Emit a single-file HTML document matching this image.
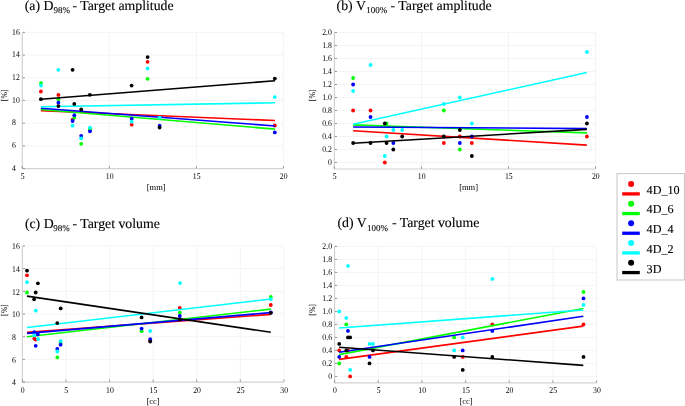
<!DOCTYPE html>
<html><head><meta charset="utf-8"><style>
html,body{margin:0;padding:0;background:#fff;}
body{width:685px;height:406px;overflow:hidden;}
svg{display:block;font-family:"Liberation Serif", serif;will-change:transform;text-rendering:geometricPrecision;}
</style></head><body>
<svg width="685" height="406" viewBox="0 0 685 406">
<rect width="685" height="406" fill="#fff"/>
<line x1="109.33" y1="32.40" x2="109.33" y2="168.60" stroke="#f4f4f4" stroke-width="1" />
<line x1="196.37" y1="32.40" x2="196.37" y2="168.60" stroke="#f4f4f4" stroke-width="1" />
<line x1="22.30" y1="145.90" x2="283.40" y2="145.90" stroke="#f4f4f4" stroke-width="1" />
<line x1="22.30" y1="123.20" x2="283.40" y2="123.20" stroke="#f4f4f4" stroke-width="1" />
<line x1="22.30" y1="100.50" x2="283.40" y2="100.50" stroke="#f4f4f4" stroke-width="1" />
<line x1="22.30" y1="77.80" x2="283.40" y2="77.80" stroke="#f4f4f4" stroke-width="1" />
<line x1="22.30" y1="55.10" x2="283.40" y2="55.10" stroke="#f4f4f4" stroke-width="1" />
<line x1="22.30" y1="32.40" x2="283.40" y2="32.40" stroke="#f4f4f4" stroke-width="1" />
<line x1="283.40" y1="32.40" x2="283.40" y2="168.60" stroke="#f4f4f4" stroke-width="1" />
<line x1="22.30" y1="32.40" x2="22.30" y2="169.10" stroke="#d2d2d2" stroke-width="1.2" />
<line x1="21.80" y1="168.60" x2="283.40" y2="168.60" stroke="#d2d2d2" stroke-width="1.2" />
<line x1="22.60" y1="168.60" x2="24.90" y2="168.60" stroke="#808080" stroke-width="0.8" />
<line x1="22.60" y1="145.90" x2="24.90" y2="145.90" stroke="#808080" stroke-width="0.8" />
<line x1="22.60" y1="123.20" x2="24.90" y2="123.20" stroke="#808080" stroke-width="0.8" />
<line x1="22.60" y1="100.50" x2="24.90" y2="100.50" stroke="#808080" stroke-width="0.8" />
<line x1="22.60" y1="77.80" x2="24.90" y2="77.80" stroke="#808080" stroke-width="0.8" />
<line x1="22.60" y1="55.10" x2="24.90" y2="55.10" stroke="#808080" stroke-width="0.8" />
<line x1="22.60" y1="32.40" x2="24.90" y2="32.40" stroke="#808080" stroke-width="0.8" />
<line x1="22.30" y1="168.30" x2="22.30" y2="166.00" stroke="#808080" stroke-width="0.8" />
<line x1="109.33" y1="168.30" x2="109.33" y2="166.00" stroke="#808080" stroke-width="0.8" />
<line x1="196.37" y1="168.30" x2="196.37" y2="166.00" stroke="#808080" stroke-width="0.8" />
<line x1="283.40" y1="168.30" x2="283.40" y2="166.00" stroke="#808080" stroke-width="0.8" />
<text transform="translate(12.10,170.80) scale(0.88,1)" font-size="8.8" text-anchor="start" fill="#000" >4</text>
<text transform="translate(12.10,148.10) scale(0.88,1)" font-size="8.8" text-anchor="start" fill="#000" >6</text>
<text transform="translate(12.10,125.40) scale(0.88,1)" font-size="8.8" text-anchor="start" fill="#000" >8</text>
<text transform="translate(12.10,102.70) scale(0.88,1)" font-size="8.8" text-anchor="start" fill="#000" >10</text>
<text transform="translate(12.10,80.00) scale(0.88,1)" font-size="8.8" text-anchor="start" fill="#000" >12</text>
<text transform="translate(12.10,57.30) scale(0.88,1)" font-size="8.8" text-anchor="start" fill="#000" >14</text>
<text transform="translate(12.10,34.60) scale(0.88,1)" font-size="8.8" text-anchor="start" fill="#000" >16</text>
<text transform="translate(22.60,178.80) scale(0.88,1)" font-size="8.8" text-anchor="middle" fill="#000" >5</text>
<text transform="translate(109.63,178.80) scale(0.88,1)" font-size="8.8" text-anchor="middle" fill="#000" >10</text>
<text transform="translate(196.67,178.80) scale(0.88,1)" font-size="8.8" text-anchor="middle" fill="#000" >15</text>
<text transform="translate(283.70,178.80) scale(0.88,1)" font-size="8.8" text-anchor="middle" fill="#000" >20</text>
<line x1="421.43" y1="32.50" x2="421.43" y2="169.00" stroke="#f4f4f4" stroke-width="1" />
<line x1="508.47" y1="32.50" x2="508.47" y2="169.00" stroke="#f4f4f4" stroke-width="1" />
<line x1="334.40" y1="162.50" x2="595.50" y2="162.50" stroke="#f4f4f4" stroke-width="1" />
<line x1="334.40" y1="149.50" x2="595.50" y2="149.50" stroke="#f4f4f4" stroke-width="1" />
<line x1="334.40" y1="136.50" x2="595.50" y2="136.50" stroke="#f4f4f4" stroke-width="1" />
<line x1="334.40" y1="123.50" x2="595.50" y2="123.50" stroke="#f4f4f4" stroke-width="1" />
<line x1="334.40" y1="110.50" x2="595.50" y2="110.50" stroke="#f4f4f4" stroke-width="1" />
<line x1="334.40" y1="97.50" x2="595.50" y2="97.50" stroke="#f4f4f4" stroke-width="1" />
<line x1="334.40" y1="84.50" x2="595.50" y2="84.50" stroke="#f4f4f4" stroke-width="1" />
<line x1="334.40" y1="71.50" x2="595.50" y2="71.50" stroke="#f4f4f4" stroke-width="1" />
<line x1="334.40" y1="58.50" x2="595.50" y2="58.50" stroke="#f4f4f4" stroke-width="1" />
<line x1="334.40" y1="45.50" x2="595.50" y2="45.50" stroke="#f4f4f4" stroke-width="1" />
<line x1="334.40" y1="32.50" x2="595.50" y2="32.50" stroke="#f4f4f4" stroke-width="1" />
<line x1="595.50" y1="32.50" x2="595.50" y2="169.00" stroke="#f4f4f4" stroke-width="1" />
<line x1="334.40" y1="32.50" x2="334.40" y2="169.50" stroke="#d2d2d2" stroke-width="1.2" />
<line x1="333.90" y1="169.00" x2="595.50" y2="169.00" stroke="#d2d2d2" stroke-width="1.2" />
<line x1="334.70" y1="162.50" x2="337.00" y2="162.50" stroke="#808080" stroke-width="0.8" />
<line x1="334.70" y1="149.50" x2="337.00" y2="149.50" stroke="#808080" stroke-width="0.8" />
<line x1="334.70" y1="136.50" x2="337.00" y2="136.50" stroke="#808080" stroke-width="0.8" />
<line x1="334.70" y1="123.50" x2="337.00" y2="123.50" stroke="#808080" stroke-width="0.8" />
<line x1="334.70" y1="110.50" x2="337.00" y2="110.50" stroke="#808080" stroke-width="0.8" />
<line x1="334.70" y1="97.50" x2="337.00" y2="97.50" stroke="#808080" stroke-width="0.8" />
<line x1="334.70" y1="84.50" x2="337.00" y2="84.50" stroke="#808080" stroke-width="0.8" />
<line x1="334.70" y1="71.50" x2="337.00" y2="71.50" stroke="#808080" stroke-width="0.8" />
<line x1="334.70" y1="58.50" x2="337.00" y2="58.50" stroke="#808080" stroke-width="0.8" />
<line x1="334.70" y1="45.50" x2="337.00" y2="45.50" stroke="#808080" stroke-width="0.8" />
<line x1="334.70" y1="32.50" x2="337.00" y2="32.50" stroke="#808080" stroke-width="0.8" />
<line x1="334.40" y1="168.70" x2="334.40" y2="166.40" stroke="#808080" stroke-width="0.8" />
<line x1="421.43" y1="168.70" x2="421.43" y2="166.40" stroke="#808080" stroke-width="0.8" />
<line x1="508.47" y1="168.70" x2="508.47" y2="166.40" stroke="#808080" stroke-width="0.8" />
<line x1="595.50" y1="168.70" x2="595.50" y2="166.40" stroke="#808080" stroke-width="0.8" />
<text transform="translate(331.85,165.00) scale(0.88,1)" font-size="8.8" text-anchor="end" fill="#000" >0</text>
<text transform="translate(331.85,152.00) scale(0.88,1)" font-size="8.8" text-anchor="end" fill="#000" >0.2</text>
<text transform="translate(331.85,139.00) scale(0.88,1)" font-size="8.8" text-anchor="end" fill="#000" >0.4</text>
<text transform="translate(331.85,126.00) scale(0.88,1)" font-size="8.8" text-anchor="end" fill="#000" >0.6</text>
<text transform="translate(331.85,113.00) scale(0.88,1)" font-size="8.8" text-anchor="end" fill="#000" >0.8</text>
<text transform="translate(331.85,100.00) scale(0.88,1)" font-size="8.8" text-anchor="end" fill="#000" >1.0</text>
<text transform="translate(331.85,87.00) scale(0.88,1)" font-size="8.8" text-anchor="end" fill="#000" >1.2</text>
<text transform="translate(331.85,74.00) scale(0.88,1)" font-size="8.8" text-anchor="end" fill="#000" >1.4</text>
<text transform="translate(331.85,61.00) scale(0.88,1)" font-size="8.8" text-anchor="end" fill="#000" >1.6</text>
<text transform="translate(331.85,48.00) scale(0.88,1)" font-size="8.8" text-anchor="end" fill="#000" >1.8</text>
<text transform="translate(331.85,35.00) scale(0.88,1)" font-size="8.8" text-anchor="end" fill="#000" >2.0</text>
<text transform="translate(334.70,178.80) scale(0.88,1)" font-size="8.8" text-anchor="middle" fill="#000" >5</text>
<text transform="translate(421.73,178.80) scale(0.88,1)" font-size="8.8" text-anchor="middle" fill="#000" >10</text>
<text transform="translate(508.77,178.80) scale(0.88,1)" font-size="8.8" text-anchor="middle" fill="#000" >15</text>
<text transform="translate(595.80,178.80) scale(0.88,1)" font-size="8.8" text-anchor="middle" fill="#000" >20</text>
<line x1="65.98" y1="245.90" x2="65.98" y2="382.10" stroke="#f4f4f4" stroke-width="1" />
<line x1="109.57" y1="245.90" x2="109.57" y2="382.10" stroke="#f4f4f4" stroke-width="1" />
<line x1="153.15" y1="245.90" x2="153.15" y2="382.10" stroke="#f4f4f4" stroke-width="1" />
<line x1="196.73" y1="245.90" x2="196.73" y2="382.10" stroke="#f4f4f4" stroke-width="1" />
<line x1="240.32" y1="245.90" x2="240.32" y2="382.10" stroke="#f4f4f4" stroke-width="1" />
<line x1="22.40" y1="359.40" x2="283.90" y2="359.40" stroke="#f4f4f4" stroke-width="1" />
<line x1="22.40" y1="336.70" x2="283.90" y2="336.70" stroke="#f4f4f4" stroke-width="1" />
<line x1="22.40" y1="314.00" x2="283.90" y2="314.00" stroke="#f4f4f4" stroke-width="1" />
<line x1="22.40" y1="291.30" x2="283.90" y2="291.30" stroke="#f4f4f4" stroke-width="1" />
<line x1="22.40" y1="268.60" x2="283.90" y2="268.60" stroke="#f4f4f4" stroke-width="1" />
<line x1="22.40" y1="245.90" x2="283.90" y2="245.90" stroke="#f4f4f4" stroke-width="1" />
<line x1="283.90" y1="245.90" x2="283.90" y2="382.10" stroke="#f4f4f4" stroke-width="1" />
<line x1="22.40" y1="245.90" x2="22.40" y2="382.60" stroke="#d2d2d2" stroke-width="1.2" />
<line x1="21.90" y1="382.10" x2="283.90" y2="382.10" stroke="#d2d2d2" stroke-width="1.2" />
<line x1="22.70" y1="382.10" x2="25.00" y2="382.10" stroke="#808080" stroke-width="0.8" />
<line x1="22.70" y1="359.40" x2="25.00" y2="359.40" stroke="#808080" stroke-width="0.8" />
<line x1="22.70" y1="336.70" x2="25.00" y2="336.70" stroke="#808080" stroke-width="0.8" />
<line x1="22.70" y1="314.00" x2="25.00" y2="314.00" stroke="#808080" stroke-width="0.8" />
<line x1="22.70" y1="291.30" x2="25.00" y2="291.30" stroke="#808080" stroke-width="0.8" />
<line x1="22.70" y1="268.60" x2="25.00" y2="268.60" stroke="#808080" stroke-width="0.8" />
<line x1="22.70" y1="245.90" x2="25.00" y2="245.90" stroke="#808080" stroke-width="0.8" />
<line x1="22.40" y1="381.80" x2="22.40" y2="379.50" stroke="#808080" stroke-width="0.8" />
<line x1="65.98" y1="381.80" x2="65.98" y2="379.50" stroke="#808080" stroke-width="0.8" />
<line x1="109.57" y1="381.80" x2="109.57" y2="379.50" stroke="#808080" stroke-width="0.8" />
<line x1="153.15" y1="381.80" x2="153.15" y2="379.50" stroke="#808080" stroke-width="0.8" />
<line x1="196.73" y1="381.80" x2="196.73" y2="379.50" stroke="#808080" stroke-width="0.8" />
<line x1="240.32" y1="381.80" x2="240.32" y2="379.50" stroke="#808080" stroke-width="0.8" />
<line x1="283.90" y1="381.80" x2="283.90" y2="379.50" stroke="#808080" stroke-width="0.8" />
<text transform="translate(12.10,385.30) scale(0.88,1)" font-size="8.8" text-anchor="start" fill="#000" >4</text>
<text transform="translate(12.10,362.60) scale(0.88,1)" font-size="8.8" text-anchor="start" fill="#000" >6</text>
<text transform="translate(12.10,339.90) scale(0.88,1)" font-size="8.8" text-anchor="start" fill="#000" >8</text>
<text transform="translate(12.10,317.20) scale(0.88,1)" font-size="8.8" text-anchor="start" fill="#000" >10</text>
<text transform="translate(12.10,294.50) scale(0.88,1)" font-size="8.8" text-anchor="start" fill="#000" >12</text>
<text transform="translate(12.10,271.80) scale(0.88,1)" font-size="8.8" text-anchor="start" fill="#000" >14</text>
<text transform="translate(12.10,249.10) scale(0.88,1)" font-size="8.8" text-anchor="start" fill="#000" >16</text>
<text transform="translate(22.70,393.10) scale(0.88,1)" font-size="8.8" text-anchor="middle" fill="#000" >0</text>
<text transform="translate(66.28,393.10) scale(0.88,1)" font-size="8.8" text-anchor="middle" fill="#000" >5</text>
<text transform="translate(109.87,393.10) scale(0.88,1)" font-size="8.8" text-anchor="middle" fill="#000" >10</text>
<text transform="translate(153.45,393.10) scale(0.88,1)" font-size="8.8" text-anchor="middle" fill="#000" >15</text>
<text transform="translate(197.03,393.10) scale(0.88,1)" font-size="8.8" text-anchor="middle" fill="#000" >20</text>
<text transform="translate(240.62,393.10) scale(0.88,1)" font-size="8.8" text-anchor="middle" fill="#000" >25</text>
<text transform="translate(284.20,393.10) scale(0.88,1)" font-size="8.8" text-anchor="middle" fill="#000" >30</text>
<line x1="378.27" y1="246.40" x2="378.27" y2="382.90" stroke="#f4f4f4" stroke-width="1" />
<line x1="421.93" y1="246.40" x2="421.93" y2="382.90" stroke="#f4f4f4" stroke-width="1" />
<line x1="465.60" y1="246.40" x2="465.60" y2="382.90" stroke="#f4f4f4" stroke-width="1" />
<line x1="509.27" y1="246.40" x2="509.27" y2="382.90" stroke="#f4f4f4" stroke-width="1" />
<line x1="552.93" y1="246.40" x2="552.93" y2="382.90" stroke="#f4f4f4" stroke-width="1" />
<line x1="334.60" y1="376.40" x2="596.60" y2="376.40" stroke="#f4f4f4" stroke-width="1" />
<line x1="334.60" y1="363.40" x2="596.60" y2="363.40" stroke="#f4f4f4" stroke-width="1" />
<line x1="334.60" y1="350.40" x2="596.60" y2="350.40" stroke="#f4f4f4" stroke-width="1" />
<line x1="334.60" y1="337.40" x2="596.60" y2="337.40" stroke="#f4f4f4" stroke-width="1" />
<line x1="334.60" y1="324.40" x2="596.60" y2="324.40" stroke="#f4f4f4" stroke-width="1" />
<line x1="334.60" y1="311.40" x2="596.60" y2="311.40" stroke="#f4f4f4" stroke-width="1" />
<line x1="334.60" y1="298.40" x2="596.60" y2="298.40" stroke="#f4f4f4" stroke-width="1" />
<line x1="334.60" y1="285.40" x2="596.60" y2="285.40" stroke="#f4f4f4" stroke-width="1" />
<line x1="334.60" y1="272.40" x2="596.60" y2="272.40" stroke="#f4f4f4" stroke-width="1" />
<line x1="334.60" y1="259.40" x2="596.60" y2="259.40" stroke="#f4f4f4" stroke-width="1" />
<line x1="334.60" y1="246.40" x2="596.60" y2="246.40" stroke="#f4f4f4" stroke-width="1" />
<line x1="596.60" y1="246.40" x2="596.60" y2="382.90" stroke="#f4f4f4" stroke-width="1" />
<line x1="334.60" y1="246.40" x2="334.60" y2="383.40" stroke="#d2d2d2" stroke-width="1.2" />
<line x1="334.10" y1="382.90" x2="596.60" y2="382.90" stroke="#d2d2d2" stroke-width="1.2" />
<line x1="334.90" y1="376.40" x2="337.20" y2="376.40" stroke="#808080" stroke-width="0.8" />
<line x1="334.90" y1="363.40" x2="337.20" y2="363.40" stroke="#808080" stroke-width="0.8" />
<line x1="334.90" y1="350.40" x2="337.20" y2="350.40" stroke="#808080" stroke-width="0.8" />
<line x1="334.90" y1="337.40" x2="337.20" y2="337.40" stroke="#808080" stroke-width="0.8" />
<line x1="334.90" y1="324.40" x2="337.20" y2="324.40" stroke="#808080" stroke-width="0.8" />
<line x1="334.90" y1="311.40" x2="337.20" y2="311.40" stroke="#808080" stroke-width="0.8" />
<line x1="334.90" y1="298.40" x2="337.20" y2="298.40" stroke="#808080" stroke-width="0.8" />
<line x1="334.90" y1="285.40" x2="337.20" y2="285.40" stroke="#808080" stroke-width="0.8" />
<line x1="334.90" y1="272.40" x2="337.20" y2="272.40" stroke="#808080" stroke-width="0.8" />
<line x1="334.90" y1="259.40" x2="337.20" y2="259.40" stroke="#808080" stroke-width="0.8" />
<line x1="334.90" y1="246.40" x2="337.20" y2="246.40" stroke="#808080" stroke-width="0.8" />
<line x1="334.60" y1="382.60" x2="334.60" y2="380.30" stroke="#808080" stroke-width="0.8" />
<line x1="378.27" y1="382.60" x2="378.27" y2="380.30" stroke="#808080" stroke-width="0.8" />
<line x1="421.93" y1="382.60" x2="421.93" y2="380.30" stroke="#808080" stroke-width="0.8" />
<line x1="465.60" y1="382.60" x2="465.60" y2="380.30" stroke="#808080" stroke-width="0.8" />
<line x1="509.27" y1="382.60" x2="509.27" y2="380.30" stroke="#808080" stroke-width="0.8" />
<line x1="552.93" y1="382.60" x2="552.93" y2="380.30" stroke="#808080" stroke-width="0.8" />
<line x1="596.60" y1="382.60" x2="596.60" y2="380.30" stroke="#808080" stroke-width="0.8" />
<text transform="translate(332.05,379.10) scale(0.88,1)" font-size="8.8" text-anchor="end" fill="#000" >0</text>
<text transform="translate(332.05,366.10) scale(0.88,1)" font-size="8.8" text-anchor="end" fill="#000" >0.2</text>
<text transform="translate(332.05,353.10) scale(0.88,1)" font-size="8.8" text-anchor="end" fill="#000" >0.4</text>
<text transform="translate(332.05,340.10) scale(0.88,1)" font-size="8.8" text-anchor="end" fill="#000" >0.6</text>
<text transform="translate(332.05,327.10) scale(0.88,1)" font-size="8.8" text-anchor="end" fill="#000" >0.8</text>
<text transform="translate(332.05,314.10) scale(0.88,1)" font-size="8.8" text-anchor="end" fill="#000" >1.0</text>
<text transform="translate(332.05,301.10) scale(0.88,1)" font-size="8.8" text-anchor="end" fill="#000" >1.2</text>
<text transform="translate(332.05,288.10) scale(0.88,1)" font-size="8.8" text-anchor="end" fill="#000" >1.4</text>
<text transform="translate(332.05,275.10) scale(0.88,1)" font-size="8.8" text-anchor="end" fill="#000" >1.6</text>
<text transform="translate(332.05,262.10) scale(0.88,1)" font-size="8.8" text-anchor="end" fill="#000" >1.8</text>
<text transform="translate(332.05,249.10) scale(0.88,1)" font-size="8.8" text-anchor="end" fill="#000" >2.0</text>
<text transform="translate(334.90,393.10) scale(0.88,1)" font-size="8.8" text-anchor="middle" fill="#000" >0</text>
<text transform="translate(378.57,393.10) scale(0.88,1)" font-size="8.8" text-anchor="middle" fill="#000" >5</text>
<text transform="translate(422.23,393.10) scale(0.88,1)" font-size="8.8" text-anchor="middle" fill="#000" >10</text>
<text transform="translate(465.90,393.10) scale(0.88,1)" font-size="8.8" text-anchor="middle" fill="#000" >15</text>
<text transform="translate(509.57,393.10) scale(0.88,1)" font-size="8.8" text-anchor="middle" fill="#000" >20</text>
<text transform="translate(553.23,393.10) scale(0.88,1)" font-size="8.8" text-anchor="middle" fill="#000" >25</text>
<text transform="translate(596.90,393.10) scale(0.88,1)" font-size="8.8" text-anchor="middle" fill="#000" >30</text>
<circle cx="40.90" cy="91.50" r="1.9" fill="#ff0000"/>
<circle cx="58.40" cy="94.90" r="1.9" fill="#ff0000"/>
<circle cx="72.60" cy="119.60" r="1.9" fill="#ff0000"/>
<circle cx="89.90" cy="129.80" r="1.9" fill="#ff0000"/>
<circle cx="131.70" cy="124.70" r="1.9" fill="#ff0000"/>
<circle cx="147.60" cy="61.80" r="1.9" fill="#ff0000"/>
<circle cx="274.80" cy="125.50" r="1.9" fill="#ff0000"/>
<line x1="40.90" y1="110.80" x2="275.00" y2="120.50" stroke="#ff0000" stroke-width="1.6" stroke-linecap="butt"/>
<circle cx="41.00" cy="83.10" r="1.9" fill="#00ff00"/>
<circle cx="58.40" cy="99.20" r="1.9" fill="#00ff00"/>
<circle cx="74.30" cy="117.70" r="1.9" fill="#00ff00"/>
<circle cx="81.20" cy="143.80" r="1.9" fill="#00ff00"/>
<circle cx="90.00" cy="129.20" r="1.9" fill="#00ff00"/>
<circle cx="147.60" cy="78.80" r="1.9" fill="#00ff00"/>
<line x1="40.90" y1="109.50" x2="275.00" y2="129.10" stroke="#00ff00" stroke-width="1.6" stroke-linecap="butt"/>
<circle cx="58.40" cy="102.70" r="1.9" fill="#0000ff"/>
<circle cx="74.30" cy="115.20" r="1.9" fill="#0000ff"/>
<circle cx="72.60" cy="121.00" r="1.9" fill="#0000ff"/>
<circle cx="81.20" cy="135.80" r="1.9" fill="#0000ff"/>
<circle cx="90.00" cy="131.30" r="1.9" fill="#0000ff"/>
<circle cx="131.70" cy="118.70" r="1.9" fill="#0000ff"/>
<circle cx="159.60" cy="125.70" r="1.9" fill="#0000ff"/>
<circle cx="274.80" cy="132.40" r="1.9" fill="#0000ff"/>
<line x1="40.90" y1="108.20" x2="275.00" y2="126.00" stroke="#0000ff" stroke-width="1.6" stroke-linecap="butt"/>
<circle cx="41.00" cy="85.50" r="1.9" fill="#00ffff"/>
<circle cx="58.40" cy="69.80" r="1.9" fill="#00ffff"/>
<circle cx="72.60" cy="125.70" r="1.9" fill="#00ffff"/>
<circle cx="81.20" cy="138.30" r="1.9" fill="#00ffff"/>
<circle cx="90.00" cy="127.60" r="1.9" fill="#00ffff"/>
<circle cx="131.70" cy="121.70" r="1.9" fill="#00ffff"/>
<circle cx="147.60" cy="68.50" r="1.9" fill="#00ffff"/>
<circle cx="159.60" cy="117.70" r="1.9" fill="#00ffff"/>
<circle cx="274.80" cy="97.10" r="1.9" fill="#00ffff"/>
<line x1="40.90" y1="106.70" x2="275.00" y2="102.80" stroke="#00ffff" stroke-width="1.6" stroke-linecap="butt"/>
<circle cx="40.90" cy="99.20" r="1.9" fill="#000000"/>
<circle cx="58.40" cy="106.10" r="1.9" fill="#000000"/>
<circle cx="72.60" cy="69.80" r="1.9" fill="#000000"/>
<circle cx="74.30" cy="103.90" r="1.9" fill="#000000"/>
<circle cx="81.20" cy="109.50" r="1.9" fill="#000000"/>
<circle cx="89.90" cy="94.80" r="1.9" fill="#000000"/>
<circle cx="131.60" cy="85.60" r="1.9" fill="#000000"/>
<circle cx="147.60" cy="57.10" r="1.9" fill="#000000"/>
<circle cx="159.60" cy="127.50" r="1.9" fill="#000000"/>
<circle cx="274.80" cy="78.60" r="1.9" fill="#000000"/>
<line x1="40.90" y1="99.30" x2="275.00" y2="80.70" stroke="#000000" stroke-width="1.6" stroke-linecap="butt"/>
<circle cx="353.13" cy="110.50" r="1.9" fill="#ff0000"/>
<circle cx="370.53" cy="110.50" r="1.9" fill="#ff0000"/>
<circle cx="384.81" cy="162.50" r="1.9" fill="#ff0000"/>
<circle cx="443.82" cy="143.00" r="1.9" fill="#ff0000"/>
<circle cx="459.83" cy="136.50" r="1.9" fill="#ff0000"/>
<circle cx="471.84" cy="143.00" r="1.9" fill="#ff0000"/>
<circle cx="586.90" cy="136.50" r="1.9" fill="#ff0000"/>
<line x1="353.10" y1="130.80" x2="586.90" y2="145.10" stroke="#ff0000" stroke-width="1.6" stroke-linecap="butt"/>
<circle cx="353.13" cy="78.00" r="1.9" fill="#00ff00"/>
<circle cx="386.55" cy="123.50" r="1.9" fill="#00ff00"/>
<circle cx="443.82" cy="110.50" r="1.9" fill="#00ff00"/>
<circle cx="459.83" cy="149.50" r="1.9" fill="#00ff00"/>
<line x1="353.10" y1="124.90" x2="586.90" y2="132.90" stroke="#00ff00" stroke-width="1.6" stroke-linecap="butt"/>
<circle cx="353.13" cy="84.50" r="1.9" fill="#0000ff"/>
<circle cx="370.53" cy="117.00" r="1.9" fill="#0000ff"/>
<circle cx="393.34" cy="143.00" r="1.9" fill="#0000ff"/>
<circle cx="459.83" cy="143.00" r="1.9" fill="#0000ff"/>
<circle cx="471.84" cy="136.50" r="1.9" fill="#0000ff"/>
<circle cx="586.90" cy="117.00" r="1.9" fill="#0000ff"/>
<line x1="353.10" y1="127.00" x2="586.90" y2="128.60" stroke="#0000ff" stroke-width="1.6" stroke-linecap="butt"/>
<circle cx="353.13" cy="91.00" r="1.9" fill="#00ffff"/>
<circle cx="370.53" cy="65.00" r="1.9" fill="#00ffff"/>
<circle cx="384.81" cy="156.00" r="1.9" fill="#00ffff"/>
<circle cx="386.55" cy="136.50" r="1.9" fill="#00ffff"/>
<circle cx="393.34" cy="130.00" r="1.9" fill="#00ffff"/>
<circle cx="402.21" cy="130.00" r="1.9" fill="#00ffff"/>
<circle cx="443.82" cy="104.00" r="1.9" fill="#00ffff"/>
<circle cx="459.83" cy="97.50" r="1.9" fill="#00ffff"/>
<circle cx="471.84" cy="123.50" r="1.9" fill="#00ffff"/>
<circle cx="586.90" cy="52.00" r="1.9" fill="#00ffff"/>
<line x1="353.10" y1="124.20" x2="586.90" y2="72.50" stroke="#00ffff" stroke-width="1.6" stroke-linecap="butt"/>
<circle cx="353.13" cy="143.00" r="1.9" fill="#000000"/>
<circle cx="370.53" cy="143.00" r="1.9" fill="#000000"/>
<circle cx="384.81" cy="123.50" r="1.9" fill="#000000"/>
<circle cx="386.55" cy="143.00" r="1.9" fill="#000000"/>
<circle cx="393.34" cy="149.50" r="1.9" fill="#000000"/>
<circle cx="402.21" cy="136.50" r="1.9" fill="#000000"/>
<circle cx="443.82" cy="136.50" r="1.9" fill="#000000"/>
<circle cx="459.83" cy="130.00" r="1.9" fill="#000000"/>
<circle cx="471.84" cy="156.00" r="1.9" fill="#000000"/>
<circle cx="586.90" cy="123.50" r="1.9" fill="#000000"/>
<line x1="353.10" y1="143.20" x2="586.90" y2="129.40" stroke="#000000" stroke-width="1.6" stroke-linecap="butt"/>
<circle cx="27.00" cy="275.30" r="1.9" fill="#ff0000"/>
<circle cx="34.30" cy="338.60" r="1.9" fill="#ff0000"/>
<circle cx="35.50" cy="339.60" r="1.9" fill="#ff0000"/>
<circle cx="150.20" cy="340.50" r="1.9" fill="#ff0000"/>
<circle cx="179.80" cy="308.00" r="1.9" fill="#ff0000"/>
<circle cx="270.80" cy="305.00" r="1.9" fill="#ff0000"/>
<line x1="27.00" y1="332.40" x2="270.80" y2="314.40" stroke="#ff0000" stroke-width="1.6" stroke-linecap="butt"/>
<circle cx="27.00" cy="292.50" r="1.9" fill="#00ff00"/>
<circle cx="60.60" cy="342.80" r="1.9" fill="#00ff00"/>
<circle cx="57.30" cy="357.40" r="1.9" fill="#00ff00"/>
<circle cx="141.60" cy="331.20" r="1.9" fill="#00ff00"/>
<circle cx="179.80" cy="312.70" r="1.9" fill="#00ff00"/>
<circle cx="270.80" cy="296.80" r="1.9" fill="#00ff00"/>
<line x1="27.00" y1="336.80" x2="270.80" y2="309.10" stroke="#00ff00" stroke-width="1.6" stroke-linecap="butt"/>
<circle cx="34.20" cy="332.20" r="1.9" fill="#0000ff"/>
<circle cx="37.80" cy="334.40" r="1.9" fill="#0000ff"/>
<circle cx="35.70" cy="345.80" r="1.9" fill="#0000ff"/>
<circle cx="60.60" cy="344.70" r="1.9" fill="#0000ff"/>
<circle cx="57.30" cy="349.00" r="1.9" fill="#0000ff"/>
<circle cx="141.60" cy="328.60" r="1.9" fill="#0000ff"/>
<circle cx="150.20" cy="339.10" r="1.9" fill="#0000ff"/>
<circle cx="179.80" cy="316.00" r="1.9" fill="#0000ff"/>
<circle cx="270.80" cy="312.50" r="1.9" fill="#0000ff"/>
<line x1="27.00" y1="333.40" x2="270.80" y2="312.60" stroke="#0000ff" stroke-width="1.6" stroke-linecap="butt"/>
<circle cx="27.00" cy="282.20" r="1.9" fill="#00ffff"/>
<circle cx="35.80" cy="310.70" r="1.9" fill="#00ffff"/>
<circle cx="34.20" cy="335.40" r="1.9" fill="#00ffff"/>
<circle cx="38.10" cy="339.20" r="1.9" fill="#00ffff"/>
<circle cx="60.60" cy="341.10" r="1.9" fill="#00ffff"/>
<circle cx="57.30" cy="351.50" r="1.9" fill="#00ffff"/>
<circle cx="150.20" cy="331.00" r="1.9" fill="#00ffff"/>
<circle cx="180.10" cy="283.10" r="1.9" fill="#00ffff"/>
<circle cx="270.80" cy="299.20" r="1.9" fill="#00ffff"/>
<line x1="27.00" y1="327.50" x2="270.80" y2="299.00" stroke="#00ffff" stroke-width="1.6" stroke-linecap="butt"/>
<circle cx="27.00" cy="270.70" r="1.9" fill="#000000"/>
<circle cx="37.90" cy="283.30" r="1.9" fill="#000000"/>
<circle cx="35.70" cy="292.50" r="1.9" fill="#000000"/>
<circle cx="34.10" cy="299.30" r="1.9" fill="#000000"/>
<circle cx="60.70" cy="308.40" r="1.9" fill="#000000"/>
<circle cx="57.30" cy="323.10" r="1.9" fill="#000000"/>
<circle cx="141.60" cy="317.40" r="1.9" fill="#000000"/>
<circle cx="150.20" cy="341.60" r="1.9" fill="#000000"/>
<circle cx="179.80" cy="319.40" r="1.9" fill="#000000"/>
<circle cx="270.80" cy="312.80" r="1.9" fill="#000000"/>
<line x1="27.00" y1="296.10" x2="270.80" y2="332.30" stroke="#000000" stroke-width="1.6" stroke-linecap="butt"/>
<circle cx="339.23" cy="350.40" r="1.9" fill="#ff0000"/>
<circle cx="346.30" cy="356.90" r="1.9" fill="#ff0000"/>
<circle cx="347.96" cy="350.40" r="1.9" fill="#ff0000"/>
<circle cx="350.14" cy="376.40" r="1.9" fill="#ff0000"/>
<circle cx="462.71" cy="356.90" r="1.9" fill="#ff0000"/>
<circle cx="492.32" cy="324.40" r="1.9" fill="#ff0000"/>
<circle cx="583.49" cy="324.40" r="1.9" fill="#ff0000"/>
<line x1="339.10" y1="359.40" x2="583.30" y2="326.10" stroke="#ff0000" stroke-width="1.6" stroke-linecap="butt"/>
<circle cx="339.23" cy="363.40" r="1.9" fill="#00ff00"/>
<circle cx="346.30" cy="324.40" r="1.9" fill="#00ff00"/>
<circle cx="454.15" cy="337.40" r="1.9" fill="#00ff00"/>
<circle cx="583.49" cy="291.90" r="1.9" fill="#00ff00"/>
<line x1="339.10" y1="354.60" x2="583.30" y2="308.50" stroke="#00ff00" stroke-width="1.6" stroke-linecap="butt"/>
<circle cx="339.23" cy="356.90" r="1.9" fill="#0000ff"/>
<circle cx="347.96" cy="330.90" r="1.9" fill="#0000ff"/>
<circle cx="369.53" cy="356.90" r="1.9" fill="#0000ff"/>
<circle cx="462.71" cy="350.40" r="1.9" fill="#0000ff"/>
<circle cx="492.32" cy="330.90" r="1.9" fill="#0000ff"/>
<circle cx="583.49" cy="298.40" r="1.9" fill="#0000ff"/>
<line x1="339.10" y1="352.30" x2="583.30" y2="316.20" stroke="#0000ff" stroke-width="1.6" stroke-linecap="butt"/>
<circle cx="339.23" cy="311.40" r="1.9" fill="#00ffff"/>
<circle cx="346.30" cy="317.90" r="1.9" fill="#00ffff"/>
<circle cx="347.96" cy="265.90" r="1.9" fill="#00ffff"/>
<circle cx="350.14" cy="369.90" r="1.9" fill="#00ffff"/>
<circle cx="369.53" cy="343.90" r="1.9" fill="#00ffff"/>
<circle cx="372.94" cy="343.90" r="1.9" fill="#00ffff"/>
<circle cx="454.15" cy="350.40" r="1.9" fill="#00ffff"/>
<circle cx="462.71" cy="337.40" r="1.9" fill="#00ffff"/>
<circle cx="492.32" cy="278.90" r="1.9" fill="#00ffff"/>
<circle cx="583.49" cy="304.90" r="1.9" fill="#00ffff"/>
<line x1="339.10" y1="328.00" x2="583.30" y2="310.00" stroke="#00ffff" stroke-width="1.6" stroke-linecap="butt"/>
<circle cx="339.23" cy="343.90" r="1.9" fill="#000000"/>
<circle cx="346.30" cy="350.40" r="1.9" fill="#000000"/>
<circle cx="347.96" cy="337.40" r="1.9" fill="#000000"/>
<circle cx="350.14" cy="337.40" r="1.9" fill="#000000"/>
<circle cx="369.53" cy="363.40" r="1.9" fill="#000000"/>
<circle cx="372.94" cy="350.40" r="1.9" fill="#000000"/>
<circle cx="454.15" cy="356.90" r="1.9" fill="#000000"/>
<circle cx="462.71" cy="369.90" r="1.9" fill="#000000"/>
<circle cx="492.32" cy="356.90" r="1.9" fill="#000000"/>
<circle cx="583.49" cy="356.90" r="1.9" fill="#000000"/>
<line x1="339.10" y1="347.20" x2="583.30" y2="365.40" stroke="#000000" stroke-width="1.6" stroke-linecap="butt"/>
<text x="156.20" y="189.50" font-size="8.5" text-anchor="middle" fill="#000" >[mm]</text>
<text x="468.60" y="189.90" font-size="8.5" text-anchor="middle" fill="#000" >[mm]</text>
<text x="153.00" y="403.90" font-size="8.5" text-anchor="middle" fill="#000" >[cc]</text>
<text x="466.00" y="404.30" font-size="8.5" text-anchor="middle" fill="#000" >[cc]</text>
<text transform="translate(7.10,95.40) rotate(-90) scale(0.88,1)" font-size="8.8" text-anchor="middle" fill="#000" >[%]</text>
<text transform="translate(315.30,95.40) rotate(-90) scale(0.88,1)" font-size="8.8" text-anchor="middle" fill="#000" >[%]</text>
<text transform="translate(7.10,310.10) rotate(-90) scale(0.88,1)" font-size="8.8" text-anchor="middle" fill="#000" >[%]</text>
<text transform="translate(315.30,309.90) rotate(-90) scale(0.88,1)" font-size="8.8" text-anchor="middle" fill="#000" >[%]</text>
<text transform="translate(24.70,9.70) scale(1.0,1.0)" font-size="13.8" text-anchor="start" fill="#000" stroke="#000" stroke-width="0.12">(a) D</text>
<text transform="translate(53.40,13.00) scale(1.0,1.0)" font-size="9.0" text-anchor="start" fill="#000" stroke="#000" stroke-width="0.08">98%</text>
<text transform="translate(72.40,9.70) scale(1.0,1.0)" font-size="13.8" text-anchor="start" fill="#000" stroke="#000" stroke-width="0.12">- Target amplitude</text>
<text transform="translate(336.60,9.70) scale(1.0,1.0)" font-size="13.8" text-anchor="start" fill="#000" stroke="#000" stroke-width="0.12">(b) V</text>
<text transform="translate(366.20,13.00) scale(1.0,1.0)" font-size="9.0" text-anchor="start" fill="#000" stroke="#000" stroke-width="0.08">100%</text>
<text transform="translate(390.50,9.70) scale(1.0,1.0)" font-size="13.8" text-anchor="start" fill="#000" stroke="#000" stroke-width="0.12">- Target amplitude</text>
<text transform="translate(24.90,227.60) scale(1.0,1.0)" font-size="13.8" text-anchor="start" fill="#000" stroke="#000" stroke-width="0.12">(c) D</text>
<text transform="translate(53.30,230.90) scale(1.0,1.0)" font-size="9.0" text-anchor="start" fill="#000" stroke="#000" stroke-width="0.08">98%</text>
<text transform="translate(72.40,227.60) scale(1.0,1.0)" font-size="13.8" text-anchor="start" fill="#000" stroke="#000" stroke-width="0.12">- Target volume</text>
<text transform="translate(337.50,227.40) scale(1.0,1.0)" font-size="13.8" text-anchor="start" fill="#000" stroke="#000" stroke-width="0.12">(d) V</text>
<text transform="translate(367.00,230.70) scale(1.0,1.0)" font-size="9.0" text-anchor="start" fill="#000" stroke="#000" stroke-width="0.08">100%</text>
<text transform="translate(391.90,227.40) scale(1.0,1.0)" font-size="13.8" text-anchor="start" fill="#000" stroke="#000" stroke-width="0.12">- Target volume</text>
<rect x="617" y="173.6" width="67.4" height="106.4" fill="#fff" stroke="#c6c6c6" stroke-width="1"/>
<circle cx="631.10" cy="184.00" r="3.0" fill="#ff0000"/>
<line x1="622.20" y1="193.90" x2="639.80" y2="193.90" stroke="#ff0000" stroke-width="3.3" />
<text transform="translate(646.60,193.60) scale(1.0,1.0)" font-size="12.15" text-anchor="start" fill="#000" stroke="#000" stroke-width="0.12">4D_10</text>
<circle cx="631.10" cy="203.67" r="3.0" fill="#00ff00"/>
<line x1="622.20" y1="213.57" x2="639.80" y2="213.57" stroke="#00ff00" stroke-width="3.3" />
<text transform="translate(646.60,213.37) scale(1.0,1.0)" font-size="12.15" text-anchor="start" fill="#000" stroke="#000" stroke-width="0.12">4D_6</text>
<circle cx="631.10" cy="223.34" r="3.0" fill="#0000ff"/>
<line x1="622.20" y1="233.24" x2="639.80" y2="233.24" stroke="#0000ff" stroke-width="3.3" />
<text transform="translate(646.60,233.14) scale(1.0,1.0)" font-size="12.15" text-anchor="start" fill="#000" stroke="#000" stroke-width="0.12">4D_4</text>
<circle cx="631.10" cy="243.01" r="3.0" fill="#00ffff"/>
<line x1="622.20" y1="252.91" x2="639.80" y2="252.91" stroke="#00ffff" stroke-width="3.3" />
<text transform="translate(646.60,252.91) scale(1.0,1.0)" font-size="12.15" text-anchor="start" fill="#000" stroke="#000" stroke-width="0.12">4D_2</text>
<circle cx="631.10" cy="262.68" r="3.0" fill="#000000"/>
<line x1="622.20" y1="272.58" x2="639.80" y2="272.58" stroke="#000000" stroke-width="3.3" />
<text transform="translate(646.60,272.68) scale(1.0,1.0)" font-size="12.15" text-anchor="start" fill="#000" stroke="#000" stroke-width="0.12">3D</text>
</svg>
</body></html>
